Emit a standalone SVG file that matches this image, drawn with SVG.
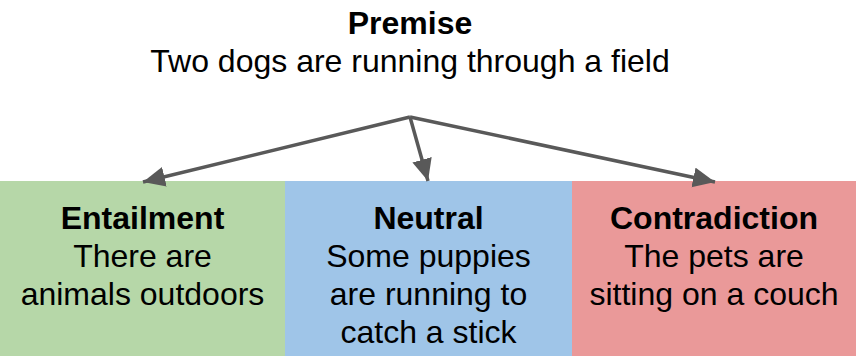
<svg xmlns="http://www.w3.org/2000/svg" width="856" height="356" viewBox="0 0 856 356">
<style>
text{font-family:"Liberation Sans",Arial,sans-serif;font-size:32px;fill:#000;text-anchor:middle}
.b{font-weight:bold}
.c{stroke:#595959;stroke-width:3.5;fill:none}
</style>
<defs>
<marker id="ah" markerUnits="userSpaceOnUse" markerWidth="26" markerHeight="22" refX="22" refY="10" orient="auto">
<path d="M0,0 L22,10 L0,20 Z" fill="#595959"/>
</marker>
</defs>
<rect width="856" height="356" fill="#fff"/>
<g id="premise">
<text class="b" x="410" y="34">Premise</text>
<text x="410" y="72">Two dogs are running through a field</text>
</g>
<g id="entailment">
<rect x="0" y="181" width="285" height="175" fill="#b6d7a8"/>
<text class="b" x="142.5" y="229">Entailment</text>
<text x="142.5" y="267">There are</text>
<text x="142.5" y="305">animals outdoors</text>
</g>
<g id="neutral">
<rect x="285" y="181" width="287" height="175" fill="#9fc5e8"/>
<text class="b" x="428.5" y="229">Neutral</text>
<text x="428.5" y="267">Some puppies</text>
<text x="428.5" y="305">are running to</text>
<text x="428.5" y="343">catch a stick</text>
</g>
<g id="contradiction">
<rect x="572" y="181" width="284" height="175" fill="#ea9999"/>
<text class="b" x="714" y="229">Contradiction</text>
<text x="714" y="267">The pets are</text>
<text x="714" y="305">sitting on a couch</text>
</g>
<g id="connectors">
<line class="c" x1="410" y1="117" x2="143" y2="182" marker-end="url(#ah)"/>
<line class="c" x1="410" y1="117" x2="428" y2="181" marker-end="url(#ah)"/>
<line class="c" x1="410" y1="117" x2="715" y2="182" marker-end="url(#ah)"/>
</g>
</svg>
